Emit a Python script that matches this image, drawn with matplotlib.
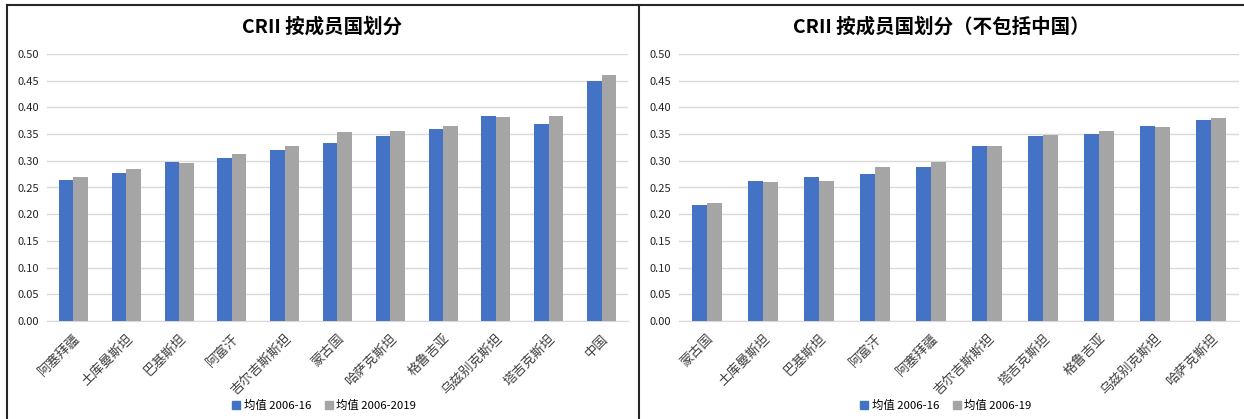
import matplotlib
matplotlib.use("Agg")
import matplotlib.pyplot as plt
import numpy as np
from matplotlib.lines import Line2D
from matplotlib.patches import Patch

plt.rcParams["font.family"] = ["Noto Sans CJK SC", "DejaVu Sans"]

# left panel: all members
left_countries = ["阿塞拜疆", "土库曼斯坦", "巴基斯坦", "阿富汗", "吉尔吉斯斯坦", "蒙古国",
                  "哈萨克斯坦", "格鲁吉亚", "乌兹别克斯坦", "塔吉克斯坦", "中国"]
left_2006_16 = [0.264, 0.277, 0.298, 0.305, 0.321, 0.334, 0.346, 0.359, 0.383, 0.369, 0.449]
left_2006_19 = [0.270, 0.285, 0.296, 0.312, 0.327, 0.354, 0.356, 0.365, 0.382, 0.384, 0.460]

# right panel: excluding China
right_countries = ["蒙古国", "土库曼斯坦", "巴基斯坦", "阿富汗", "阿塞拜疆", "吉尔吉斯斯坦",
                   "塔吉克斯坦", "格鲁吉亚", "乌兹别克斯坦", "哈萨克斯坦"]
right_2006_16 = [0.218, 0.263, 0.270, 0.275, 0.289, 0.328, 0.347, 0.350, 0.366, 0.376]
right_2006_19 = [0.221, 0.261, 0.262, 0.288, 0.297, 0.328, 0.349, 0.356, 0.363, 0.381]

yticks = [0.00, 0.05, 0.10, 0.15, 0.20, 0.25, 0.30, 0.35, 0.40, 0.45, 0.50]

BLUE = "#4472C4"
GRAY = "#A5A5A5"
GRID = "#D9D9D9"
W, H = 1244, 419


def px_axes(fig, x0, y0, x1, y1):
    # pixel box (top-left origin) -> figure fraction
    return fig.add_axes([x0 / W, 1 - y1 / H, (x1 - x0) / W, (y1 - y0) / H])


def draw_panel(ax, countries, s1, s2):
    x = np.arange(len(countries))
    bw = 0.275
    ax.bar(x - bw / 2, s1, width=bw, color=BLUE, zorder=3)
    ax.bar(x + bw / 2, s2, width=bw, color=GRAY, zorder=3)
    ax.set_xlim(-0.5, len(countries) - 0.5)
    ax.set_ylim(0, 0.5)
    ax.set_yticks(yticks)
    ax.set_yticklabels([f"{v:.2f}" for v in yticks], fontsize=8, color="#262626")
    ax.yaxis.grid(True, color=GRID, linewidth=1.0, zorder=0)
    ax.set_axisbelow(True)
    for s in ["top", "right", "left"]:
        ax.spines[s].set_visible(False)
    ax.spines["bottom"].set_color(GRID)
    ax.tick_params(axis="both", length=0, pad=6)
    ax.set_xticks(x)
    ax.set_xticklabels(countries, rotation=45, ha="right", rotation_mode="anchor",
                       fontsize=9.5, color="#404040")
    ax.tick_params(axis="x", pad=8)


fig = plt.figure(figsize=(W / 100, H / 100), dpi=100)

ax1 = px_axes(fig, 47, 54, 628, 321)
draw_panel(ax1, left_countries, left_2006_16, left_2006_19)
ax2 = px_axes(fig, 679, 54, 1239, 321)
draw_panel(ax2, right_countries, right_2006_16, right_2006_19)

fig.text(322 / W, 1 - 27 / H, "CRII 按成员国划分", ha="center", va="center",
         fontsize=14, fontweight="bold")
fig.text(941 / W, 1 - 27 / H, "CRII 按成员国划分（不包括中国）", ha="center", va="center",
         fontsize=14, fontweight="bold")

handles = [Patch(color=BLUE), Patch(color=GRAY)]
fig.legend(handles, ["均值 2006-16", "均值 2006-2019"], loc="center",
           bbox_to_anchor=(324 / W, 1 - 405 / H), ncol=2, frameon=False, fontsize=8.2,
           handlelength=0.7, handleheight=0.7, handletextpad=0.3, columnspacing=1.2)
fig.legend(handles, ["均值 2006-16", "均值 2006-19"], loc="center",
           bbox_to_anchor=(946 / W, 1 - 405 / H), ncol=2, frameon=False, fontsize=8.2,
           handlelength=0.7, handleheight=0.7, handletextpad=0.3, columnspacing=1.2)

# panel borders
for xs, ys in [([7, 7], [5.5, H]), ([639, 639], [5.5, H]), ([7, W], [5.5, 5.5])]:
    fig.add_artist(Line2D([v / W for v in xs], [1 - v / H for v in ys],
                          color="#262626", linewidth=1.5))

fig.savefig("out.png", dpi=100)
